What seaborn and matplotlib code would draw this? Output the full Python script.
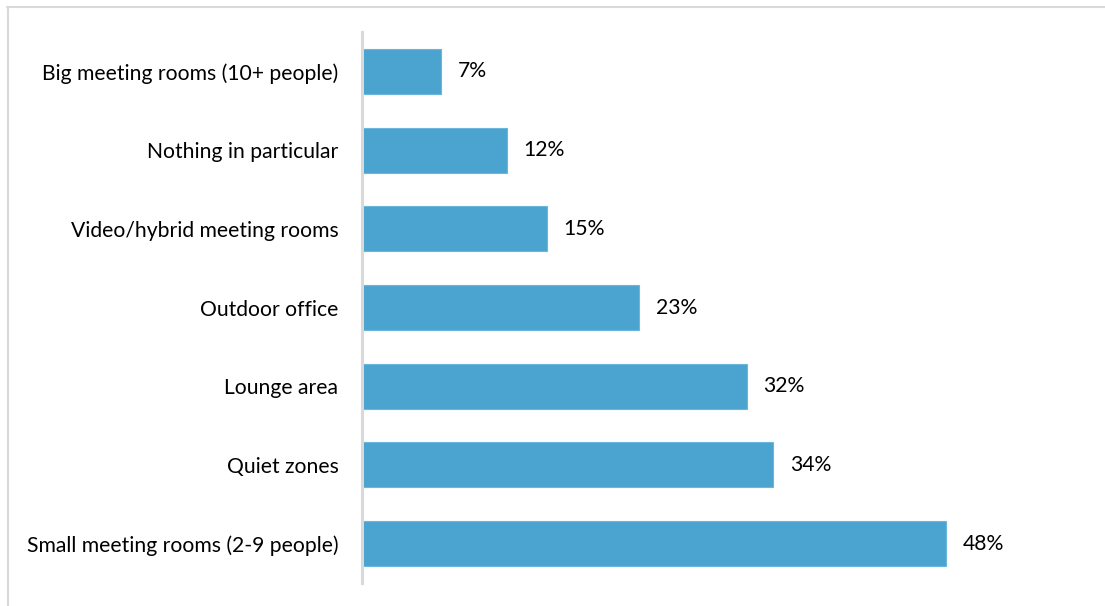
import matplotlib
matplotlib.use("Agg")
import matplotlib.pyplot as plt
import seaborn as sns
import pandas as pd
from matplotlib.lines import Line2D

categories = [
    "Big meeting rooms (10+ people)",
    "Nothing in particular",
    "Video/hybrid meeting rooms",
    "Outdoor office",
    "Lounge area",
    "Quiet zones",
    "Small meeting rooms (2-9 people)",
]
values = [6.5, 11.9, 15.2, 22.8, 31.6, 33.8, 48.0]
value_labels = ["7%", "12%", "15%", "23%", "32%", "34%", "48%"]

sns.set_theme(style="white")
plt.rcParams['font.family'] = ['Lato', 'DejaVu Sans']

W, H = 1105, 606
fig = plt.figure(figsize=(W / 100, H / 100), dpi=100)
ax = fig.add_axes([362 / W, 23 / H, (1090 - 362) / W, (583 - 32) / H])

df = pd.DataFrame({"cat": categories, "val": values})
sns.barplot(data=df, y="cat", x="val", orient="h", color="#4BA3CF",
            saturation=1, width=0.57, ax=ax, edgecolor="#6CB6DC", linewidth=0.8)

ax.set_xlim(0, (1090 - 362) / 12.17)
ax.set_ylim(6.5, -0.5)
ax.set_xlabel("")
ax.set_ylabel("")
ax.set_xticks([])
for s in ["top", "right", "bottom"]:
    ax.spines[s].set_visible(False)
ax.spines["left"].set_color("#d9d9d9")
ax.spines["left"].set_linewidth(2.2)
ax.tick_params(axis="y", length=0, pad=17, labelsize=15.2, labelcolor="black")

ax.bar_label(ax.containers[0], labels=value_labels, padding=12, fontsize=15.2, color="black")

fig.add_artist(Line2D([7 / W, 1], [1 - 6.5 / H, 1 - 6.5 / H], color="#d9d9d9", lw=1.5, transform=fig.transFigure))
fig.add_artist(Line2D([7.5 / W, 7.5 / W], [0, 1 - 6.5 / H], color="#d9d9d9", lw=1.5, transform=fig.transFigure))

fig.savefig("out.png", dpi=100)
